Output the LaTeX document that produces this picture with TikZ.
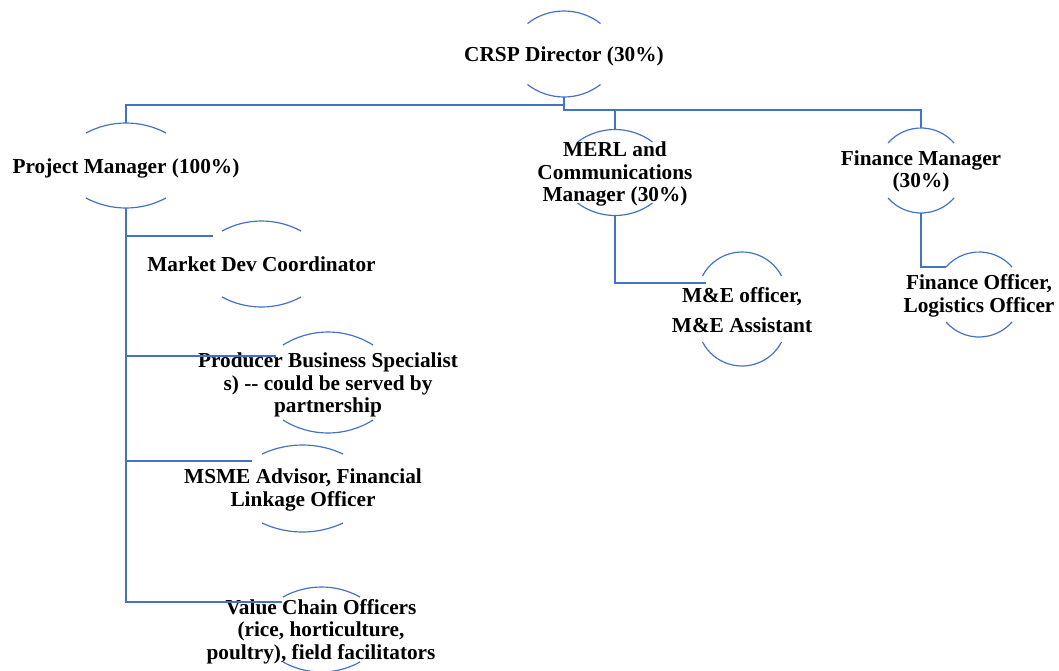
\documentclass[tikz,border=0pt]{standalone}
\usepackage{fontspec}
\setmainfont{Liberation Serif}
\usetikzlibrary{calc}
\definecolor{lineblue}{HTML}{4472C4}
\tikzset{
  lbl/.style={font=\bfseries\fontsize{21.3}{22.5}\selectfont, align=center, inner sep=0pt, text=black},
  arcline/.style={draw=lineblue, line width=1.2pt},
  conn/.style={draw=lineblue, line width=1.4pt},
}
% #1 centre name, #2 half chord, #3 vertical distance of arc ends from centre, #4 sagitta
\newcommand\halfov[4]{%
  \pgfmathsetmacro\hvR{(#2*#2+#4*#4)/(2*#4)}%
  \pgfmathsetmacro\hvA{asin(#2/\hvR)}%
  \draw[arcline] ($(#1)+(-#2,#3)$) arc[start angle={90+\hvA}, end angle={90-\hvA}, radius=\hvR pt];
  \draw[arcline] ($(#1)+(-#2,-#3)$) arc[start angle={270-\hvA}, end angle={270+\hvA}, radius=\hvR pt];
  \coordinate (#1-t) at ($(#1)+(0,#3+#4)$);
  \coordinate (#1-b) at ($(#1)+(0,-#3-#4)$);
}
\begin{document}
\begin{tikzpicture}[x=1pt,y=1pt]
\useasboundingbox (0,0) rectangle (1059,-670);
% shape centres
\coordinate (crspC) at (564,-54);
\coordinate (pmC) at (126,-165.5);
\coordinate (merlC) at (615,-172.5);
\coordinate (finC) at (921,-170.5);
\coordinate (meC) at (742,-309);
\coordinate (foC) at (979,-294.5);
\coordinate (mdcC) at (261.5,-264);
\coordinate (pbsC) at (328,-382.5);
\coordinate (msmeC) at (302.5,-488.5);
\coordinate (vcC) at (321.5,-629.5);
% arcs
\halfov{crspC}{36.5}{30.5}{12.5}
\halfov{pmC}{40}{32.5}{10}
\halfov{merlC}{37.5}{30.5}{12.5}
\halfov{finC}{33}{27.5}{15}
\halfov{meC}{39.5}{33}{24}
\halfov{foC}{33}{27.5}{15}
\halfov{mdcC}{39.5}{33}{10}
\halfov{pbsC}{45}{37.5}{13}
\halfov{msmeC}{40.5}{34.5}{9}
\halfov{vcC}{38.5}{32.5}{10}
% texts
\node[lbl] (crsp) at (564,-56.5) {CRSP Director (30\%)};
\node[lbl] (pm) at (126,-168.5) {Project Manager (100\%)};
\node[lbl] (merl) at (615,-174) {MERL and\\Communications\\Manager (30\%)};
\node[lbl] (fin) at (921,-171.5) {Finance Manager\\(30\%)};
\node[lbl, font=\bfseries\fontsize{21.3}{30}\selectfont] (me) at (742,-310) {M\&E officer,\\M\&E Assistant};
\node[lbl] (fo) at (979,-296) {Finance Officer,\\Logistics Officer};
\node[lbl] (mdc) at (261.5,-264) {Market Dev Coordinator};
\node[lbl] (pbs) at (328,-385) {Producer Business Specialist\\s) -{}- could be served by\\partnership};
\node[lbl] (msme) at (303,-490) {MSME Advisor, Financial\\Linkage Officer};
\node[lbl] (vc) at (321,-631.5) {Value Chain Officers\\(rice, horticulture,\\poultry), field facilitators};
% connector end points
\coordinate (jL) at ($(crspC-b)+(0,-8)$);
\coordinate (jR) at ($(crspC-b)+(0,-13)$);
\coordinate (mdcE) at (213,-236);
\coordinate (pbsE) at (276,-356);
\coordinate (msmeE) at (252,-461);
\coordinate (vcE) at (282,-602);
\coordinate (meE) at (706,-283);
\coordinate (foE) at (946,-267);
% connectors
\draw[conn] (crspC-b) -- (jL) -| (pmC-t);
\draw[conn] (crspC-b) -- (jR) -| (finC-t);
\draw[conn] (jR -| merlC-t) -- (merlC-t);
\draw[conn] (pmC-b) |- (vcE);
\draw[conn] (pmC-b |- mdcE) -- (mdcE);
\draw[conn] (pmC-b |- pbsE) -- (pbsE);
\draw[conn] (pmC-b |- msmeE) -- (msmeE);
\draw[conn] (merlC-b) |- (meE);
\draw[conn] (finC-b) |- (foE);
\end{tikzpicture}
\end{document}
